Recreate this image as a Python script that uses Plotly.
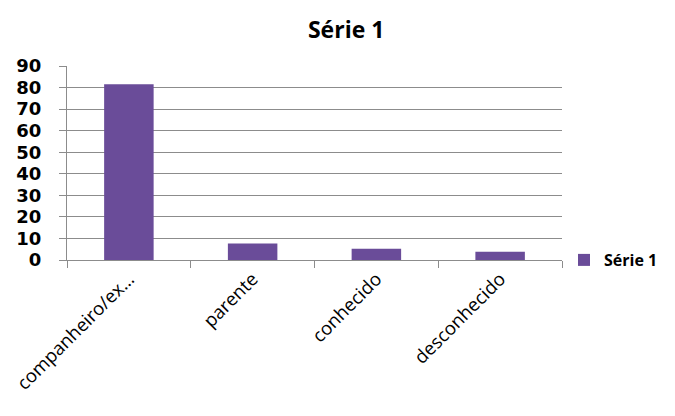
import plotly.graph_objects as go

categories = ["companheiro/ex…", "parente", "conhecido", "desconhecido"]
values = [81.5, 7.7, 5.2, 3.8]
series_name = "Série 1"
y_ticks = list(range(0, 100, 10))

fig = go.Figure()
fig.add_trace(go.Bar(
    x=categories, y=values, name=series_name,
    marker=dict(color="#6a4c99", line=dict(width=0)),
    width=0.4, showlegend=True,
))

fig.update_layout(
    width=667, height=408,
    paper_bgcolor="white", plot_bgcolor="white",
    margin=dict(l=59, r=113, t=58, b=156, autoexpand=False),
    title=dict(text="Série 1", x=0.507, xanchor="center", y=0.946, yanchor="middle",
               font=dict(family="Open Sans", size=23, color="black", weight="bold")),
    legend=dict(x=1.004, xref="paper", y=0.0, xanchor="left", yanchor="middle",
                font=dict(family="Open Sans", size=16, color="black", weight="bold"),
                itemwidth=30, bgcolor="rgba(0,0,0,0)"),
    bargap=0.6,
)
fig.update_yaxes(
    range=[0, 90], tickvals=y_ticks,
    showgrid=True, gridcolor="#8c8c8c", gridwidth=1,
    showline=True, linecolor="#8c8c8c", linewidth=1,
    ticks="outside", ticklen=7, tickcolor="#8c8c8c",
    tickfont=dict(family="DejaVu Sans", size=18, color="black", weight="bold"),
    ticklabelstandoff=14,
    zeroline=False, fixedrange=True, automargin=False,
)
fig.update_xaxes(
    showline=True, linecolor="#8c8c8c", linewidth=1,
    ticks="outside", tickson="boundaries", ticklen=7, tickcolor="#8c8c8c",
    tickangle=-45,
    tickfont=dict(family="Open Sans", size=18.5, color="black"),
    showgrid=False, automargin=False,
)

fig.write_html("out.html")
